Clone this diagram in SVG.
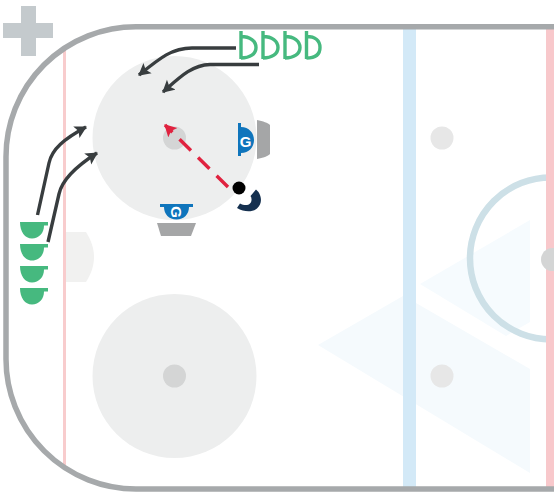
<svg xmlns="http://www.w3.org/2000/svg" width="554" height="493" viewBox="0 0 554 493">
<style>
.dot{fill:#d4d5d5}
.circle{fill:#edeeee}
.run{fill:none;stroke:#383d3f;stroke-width:3.4}
.player{fill:#46b97f}
.skate{fill:none;stroke:#46b97f;stroke-width:3.4}
.goalie{fill:#0f75bc}
.gl{fill:#fff;font-family:"Liberation Sans",Arial,sans-serif;font-weight:700;font-size:15px;text-anchor:middle}
.net{fill:#a5a6a7}
</style>
<defs>
<marker id="ah" markerUnits="userSpaceOnUse" markerWidth="15" markerHeight="15" refX="11" refY="7" orient="auto"><path d="M0 0.500L12 7L0 13.500L2.500 7Z" fill="#383d3f"/></marker>
<marker id="rh" markerUnits="userSpaceOnUse" markerWidth="15" markerHeight="15" refX="11" refY="7" orient="auto"><path d="M0 0.500L12 7L0 13.500L2.500 7Z" fill="#e0223f"/></marker>
</defs>
<rect width="554" height="493" fill="#fff"/>
<g id="rink">
<path d="M318 345L403 296L416 303L530 369V473Z" fill="#f5fafd"/>
<path d="M420 284L530 220V322L506 336Z" fill="#f6fbfe"/>
<rect x="403" y="28" width="13" height="459" fill="#d3e9f7"/>
<rect x="63" y="48" width="3" height="418" fill="#f8cccd"/>
<circle cx="551" cy="258.400" r="81" fill="none" stroke="#cde0e7" stroke-width="6.500"/>
<rect x="546" y="28" width="8" height="459" fill="#f8c8cb"/>
<circle class="circle" cx="174.500" cy="138" r="82"/>
<circle class="circle" cx="174.500" cy="376" r="82"/>
<circle class="dot" cx="174.500" cy="138" r="11.500"/>
<circle class="dot" cx="174.500" cy="376" r="11.500"/>
<circle cx="442" cy="138" r="11.500" fill="#e7e7e7"/>
<circle cx="442" cy="376" r="11.500" fill="#e7e7e7"/>
<circle class="dot" cx="552.500" cy="259.500" r="11.500"/>
<path d="M66 232H86C91 240 94 248 94 257C94 266 91 274 86 282H66Z" fill="#f1f1f0"/>
<path d="M554 26.700H136A130 130 0 0 0 6 156.700V359A130 130 0 0 0 136 489H554" fill="none" stroke="#a6a9ab" stroke-width="5.500"/>
<path d="M21 6H36V23H53V38H36V56H21V38H3V23H21Z" fill="#c4cacd"/>
</g>
<g id="connectors">
<path class="run" d="M236 48H192C172 48 160 58 139 75" marker-end="url(#ah)"/>
<path class="run" d="M259 64.500H210C192 65 180 77 163 92" marker-end="url(#ah)"/>
<path class="run" d="M37.500 215L49 163C52 149 64 139 86 127" marker-end="url(#ah)"/>
<path class="run" d="M48 242L59 194C62 180 75 167 97 153" marker-end="url(#ah)"/>
<path d="M228 187L165 125" fill="none" stroke="#e0223f" stroke-width="3.400" stroke-dasharray="16 10" marker-end="url(#rh)"/>
</g>
<g id="players-top">
<path class="skate" d="M241 31V59M241 36.500C250 36.500 256 41 256 47.500C256 54 250 58 241 58"/>
<path class="skate" d="M263 31V59M263 36.500C272 36.500 278 41 278 47.500C278 54 272 58 263 58"/>
<path class="skate" d="M285 31V59M285 36.500C294 36.500 300 41 300 47.500C300 54 294 58 285 58"/>
<path class="skate" d="M306.500 31V59M306.500 36.500C315.500 36.500 320 41 320 47.500C320 54 315.500 58 306.500 58"/>
</g>
<g id="players-left">
<path class="player" d="M20 222H48V225.500H44C44 233 39 238.500 32 238.500C25 238.500 20 232 20 222Z"/>
<path class="player" d="M20 244H48V247.500H44C44 255 39 260.500 32 260.500C25 260.500 20 254 20 244Z"/>
<path class="player" d="M20 266H48V269.500H44C44 277 39 282.500 32 282.500C25 282.500 20 276 20 266Z"/>
<path class="player" d="M20 288H48V291.500H44C44 299 39 304.500 32 304.500C25 304.500 20 298 20 288Z"/>
</g>
<g id="goalie-right">
<path class="net" d="M257 120C263 121 268 123 270 125V154C268 156 263 158 257 159Z"/>
<path class="goalie" d="M238 123H241V127C249 127 254 133 254 140C254 147 249 153 241 153V156H238Z"/>
<text class="gl" x="245.500" y="146.500">G</text>
</g>
<g id="goalie-bottom">
<path class="net" d="M157 223H196L191 236H161Z"/>
<path class="goalie" d="M160 204H193V207H189C189 214 184 219.500 176.500 219.500C169 219.500 164 214 164 207H160Z"/>
<text class="gl" transform="rotate(90 176.500 212)" x="176.500" y="217.400">G</text>
</g>
<g id="puck-carrier">
<path d="M256 189.500L258.500 192C262 198 262 204 257 208.500C252 212.500 244 212 237 208L240 203.500C244 205.500 248 205.500 250 203.500C252 201.500 252 198 250.500 196Z" fill="#15304f"/>
<circle cx="239" cy="188" r="6.500" fill="#000"/>
</g>
</svg>
